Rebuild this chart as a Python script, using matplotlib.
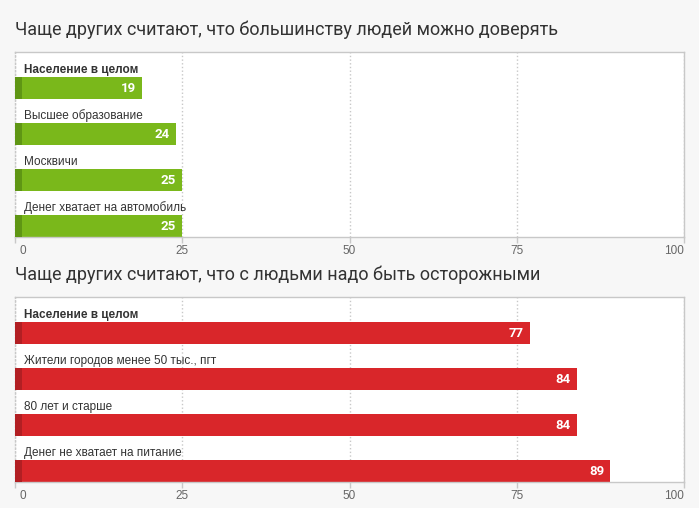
import matplotlib.pyplot as plt
from matplotlib.transforms import ScaledTranslation

# данные
trust_title = 'Чаще других считают, что большинству людей можно доверять'
trust_labels = ['Население в целом', 'Высшее образование', 'Москвичи',
                'Денег хватает на автомобиль']
trust_values = [19, 24, 25, 25]

care_title = 'Чаще других считают, что с людьми надо быть осторожными'
care_labels = ['Население в целом', 'Жители городов менее 50 тыс., пгт',
               '80 лет и старше', 'Денег не хватает на питание']
care_values = [77, 84, 84, 89]

ticks = [0, 25, 50, 75, 100]

W, H = 699, 508
fig = plt.figure(figsize=(W / 100, H / 100), dpi=100)
fig.patch.set_facecolor('#f7f7f7')


def panel(top_px, title, labels, values, color, dark):
    ax = fig.add_axes([15 / W, (H - top_px - 185) / H, 669 / W, 185 / H])
    ax.set_facecolor('white')
    y = list(range(len(values)))
    ax.barh(y, values, height=22 / 46, color=color, zorder=2)
    ax.barh(y, [1] * len(values), height=22 / 46, color=dark, zorder=3)
    for i, (lab, v) in enumerate(zip(labels, values)):
        ax.text(1.35, i - 0.40, lab, va='center', ha='left', fontsize=8.5,
                color='#333333', family='Liberation Sans',
                fontweight='bold' if i == 0 else 'normal')
        ax.text(v - 0.9, i + 0.02, str(v), va='center', ha='right',
                fontsize=9.5, color='white', fontweight='bold',
                family='Roboto', zorder=4)
    ax.set_xlim(0, 100)
    ax.set_ylim(len(values) - 1 + 11 / 46, -36 / 46)
    ax.set_xticks(ticks)
    ax.set_yticks([])
    ax.grid(axis='x', color='#c8c8c8', linestyle=':', linewidth=1, zorder=0)
    for s in ax.spines.values():
        s.set_color('#c8c8c8')
        s.set_linewidth(1)
    ax.spines['left'].set_linestyle(':')
    ax.tick_params(axis='x', length=4, width=1, color='#c8c8c8', pad=1.5,
                   labelsize=8.5, labelcolor='#666666')
    tl = ax.get_xticklabels()
    for t in tl:
        t.set_family('Liberation Sans')
    tl[0].set_ha('left')
    tl[0].set_transform(tl[0].get_transform() +
                        ScaledTranslation(4 / 100, 0, fig.dpi_scale_trans))
    tl[-1].set_ha('right')
    fig.text(15 / W, 1 - (top_px - 22) / H, title, fontsize=13, color='#333333',
             family='Roboto', ha='left', va='center')
    return ax


panel(52, trust_title, trust_labels, trust_values, '#7ab81b', '#5f9614')
panel(297, care_title, care_labels, care_values, '#d9262a', '#b21f23')

fig.savefig('out.png', dpi=100, facecolor=fig.get_facecolor())
